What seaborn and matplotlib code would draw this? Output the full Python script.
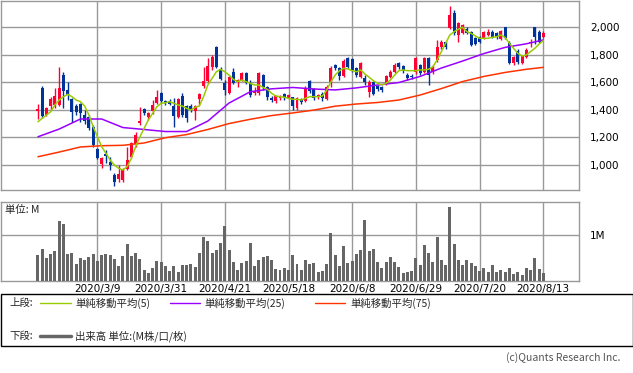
import matplotlib
matplotlib.use("Agg")
import matplotlib.pyplot as plt
from matplotlib.lines import Line2D
from matplotlib.patches import Rectangle
import seaborn as sns
import pandas as pd

# ---------------- data ----------------
tick_pos = [14, 29, 44, 59, 74, 89, 104, 119]
tick_labels = ["2020/3/9", "2020/3/31", "2020/4/21", "2020/5/18",
               "2020/6/8", "2020/6/29", "2020/7/20", "2020/8/13"]

opens = [1392, 1559, 1363, 1428, 1436, 1436, 1653, 1545, 1479, 1428,
         1443, 1363, 1348, 1276, 1116, 1007, 1080, 1022, 927, 898,
         891, 971, 1058, 1152, 1305, 1407, 1348, 1392, 1450, 1523,
         1462, 1467, 1428, 1348, 1501, 1428, 1428, 1392, 1479, 1574,
         1610, 1711, 1857, 1697, 1595, 1523, 1675, 1603, 1617, 1668,
         1595, 1523, 1523, 1653, 1566, 1487, 1465, 1487, 1515, 1487,
         1494, 1414, 1479, 1465, 1610, 1552, 1494, 1515, 1479, 1603,
         1726, 1704, 1646, 1777, 1770, 1704, 1639, 1632, 1530, 1603,
         1574, 1566, 1595, 1639, 1675, 1741, 1719, 1653, 1646, 1675,
         1726, 1675, 1777, 1675, 1762, 1857, 1893, 1995, 2104, 1944,
         1958, 1987, 1966, 1922, 1929, 1922, 1944, 1966, 1958, 1915,
         2002, 1886, 1740, 1828, 1740, 1784, 1886, 2002, 1966, 1929]
highs = [1443, 1574, 1421, 1494, 1559, 1711, 1675, 1603, 1487, 1443,
         1450, 1399, 1363, 1290, 1123, 1058, 1109, 1058, 942, 1000,
         978, 1131, 1167, 1240, 1421, 1414, 1385, 1472, 1545, 1530,
         1472, 1479, 1487, 1487, 1523, 1436, 1443, 1436, 1523, 1711,
         1777, 1798, 1864, 1711, 1617, 1646, 1704, 1624, 1675, 1675,
         1617, 1566, 1675, 1661, 1574, 1501, 1508, 1508, 1523, 1515,
         1494, 1494, 1487, 1574, 1617, 1559, 1515, 1530, 1581, 1719,
         1733, 1711, 1770, 1784, 1777, 1711, 1748, 1653, 1617, 1610,
         1581, 1574, 1653, 1690, 1741, 1748, 1726, 1668, 1661, 1784,
         1733, 1784, 1784, 1726, 1908, 1908, 1900, 2154, 2125, 2038,
         2024, 2002, 1973, 1929, 1937, 1973, 1987, 1980, 1966, 1980,
         2002, 1900, 1791, 1842, 1798, 1849, 1915, 2002, 1980, 1973]
lows = [1334, 1341, 1356, 1399, 1414, 1428, 1414, 1472, 1312, 1363,
        1312, 1298, 1254, 1131, 1044, 978, 1015, 964, 848, 877,
        877, 964, 1051, 1131, 1290, 1363, 1327, 1370, 1443, 1450,
        1436, 1436, 1276, 1341, 1348, 1312, 1385, 1327, 1436, 1559,
        1595, 1690, 1704, 1617, 1508, 1515, 1588, 1566, 1610, 1588,
        1494, 1508, 1508, 1545, 1472, 1457, 1450, 1472, 1472, 1479,
        1399, 1399, 1443, 1457, 1523, 1472, 1479, 1465, 1472, 1566,
        1690, 1617, 1639, 1704, 1675, 1639, 1632, 1581, 1494, 1508,
        1537, 1530, 1581, 1632, 1668, 1697, 1668, 1617, 1624, 1661,
        1653, 1668, 1581, 1661, 1748, 1842, 1842, 1988, 1944, 1893,
        1951, 1951, 1864, 1871, 1886, 1915, 1937, 1922, 1915, 1908,
        1915, 1733, 1726, 1733, 1733, 1777, 1857, 1878, 1886, 1922]
closes = [1407, 1356, 1414, 1479, 1501, 1559, 1537, 1508, 1385, 1385,
          1378, 1319, 1269, 1145, 1051, 1051, 1065, 1000, 877, 935,
          964, 1036, 1160, 1218, 1319, 1378, 1378, 1436, 1494, 1465,
          1450, 1443, 1356, 1479, 1363, 1341, 1399, 1428, 1515, 1610,
          1719, 1784, 1711, 1624, 1545, 1639, 1595, 1617, 1668, 1595,
          1508, 1530, 1668, 1566, 1494, 1472, 1501, 1494, 1494, 1508,
          1428, 1487, 1457, 1559, 1537, 1487, 1508, 1487, 1566, 1704,
          1704, 1646, 1755, 1711, 1690, 1653, 1741, 1603, 1603, 1515,
          1552, 1545, 1646, 1675, 1726, 1711, 1682, 1632, 1639, 1777,
          1668, 1777, 1653, 1711, 1857, 1893, 1857, 2089, 1958, 2031,
          2016, 1958, 1871, 1878, 1893, 1966, 1966, 1929, 1929, 1973,
          1922, 1740, 1784, 1748, 1791, 1835, 1893, 1929, 1893, 1958]

ma5 = [1314, 1339, 1363, 1387, 1436, 1472, 1496, 1513, 1496, 1472,
       1460, 1428, 1363, 1278, 1205, 1133, 1085, 1036, 1000, 976,
       964, 988, 1049, 1133, 1205, 1266, 1327, 1375, 1423, 1448,
       1452, 1460, 1448, 1436, 1428, 1412, 1399, 1419, 1428, 1496,
       1581, 1629, 1677, 1695, 1677, 1653, 1622, 1605, 1617, 1605,
       1593, 1581, 1581, 1564, 1550, 1521, 1501, 1496, 1492, 1484,
       1477, 1477, 1472, 1484, 1496, 1496, 1496, 1501, 1545, 1605,
       1653, 1685, 1702, 1697, 1685, 1677, 1690, 1661, 1637, 1612,
       1593, 1581, 1593, 1617, 1653, 1685, 1690, 1685, 1685, 1685,
       1690, 1690, 1695, 1714, 1762, 1823, 1884, 1944, 1968, 1985,
       2000, 1968, 1956, 1937, 1920, 1920, 1920, 1927, 1931, 1944,
       1927, 1884, 1847, 1811, 1791, 1799, 1823, 1847, 1878, 1902]

ma_long_idx = [0, 5, 10, 15, 20, 25, 30, 35, 40, 45, 50, 55, 60, 65,
               70, 75, 80, 85, 90, 95, 100, 105, 110, 115, 119]
ma25 = [1205, 1261, 1334, 1334, 1272, 1258, 1243, 1243, 1319, 1450,
        1532, 1553, 1563, 1552, 1545, 1560, 1581, 1599, 1643, 1704,
        1755, 1809, 1854, 1880, 1908]
ma75 = [1060, 1094, 1131, 1140, 1143, 1160, 1198, 1221, 1258, 1301,
        1332, 1359, 1378, 1399, 1427, 1443, 1454, 1472, 1508, 1555,
        1606, 1643, 1672, 1695, 1709]

volume_m = [0.56, 0.69, 0.50, 0.58, 0.65, 1.31, 1.24, 0.58, 0.61, 0.36,
            0.50, 0.45, 0.52, 0.58, 0.43, 0.56, 0.58, 0.56, 0.47, 0.32,
            0.54, 0.80, 0.54, 0.61, 0.47, 0.23, 0.17, 0.28, 0.43, 0.41,
            0.32, 0.21, 0.32, 0.19, 0.34, 0.34, 0.36, 0.30, 0.61, 0.96,
            0.87, 0.61, 0.67, 0.82, 1.20, 0.67, 0.41, 0.23, 0.39, 0.43,
            0.82, 0.32, 0.45, 0.52, 0.54, 0.45, 0.26, 0.23, 0.28, 0.23,
            0.56, 0.36, 0.23, 0.45, 0.36, 0.39, 0.19, 0.21, 0.36, 1.04,
            0.56, 0.32, 0.76, 0.39, 0.43, 0.58, 0.67, 1.33, 0.65, 0.69,
            0.41, 0.28, 0.41, 0.52, 0.41, 0.30, 0.17, 0.19, 0.21, 0.50,
            0.34, 0.78, 0.61, 0.41, 0.96, 0.45, 0.34, 1.61, 0.80, 0.45,
            0.34, 0.45, 0.39, 0.32, 0.21, 0.28, 0.19, 0.34, 0.19, 0.23,
            0.19, 0.28, 0.15, 0.19, 0.12, 0.28, 0.23, 0.50, 0.26, 0.17]

price_ticks = [1000, 1200, 1400, 1600, 1800, 2000]
vol_ticks = [1.0]
vol_tick_labels = ["1M"]

# ---------------- styling ----------------
RED = "#ff0033"
BLUE = "#003399"
C_MA5 = "#99cc00"
C_MA25 = "#9900ff"
C_MA75 = "#ff3300"
GRID = "#999999"
VOLC = "#666666"

sns.set_theme(style="white")
plt.rcParams["font.family"] = ["DejaVu Sans", "Noto Sans CJK JP"]
JP = ["Noto Sans CJK JP", "DejaVu Sans"]
FS = 7.5

W, H = 633, 373
fig = plt.figure(figsize=(W / 100, H / 100), dpi=100)
fig.patch.set_facecolor("white")

def fx(px):
    return px / W

def fy(py):
    return 1 - py / H

left = 0.5
right = 579
ax1 = fig.add_axes([fx(left), fy(190), fx(right - left), (190 - 0.7) / H])
ax2 = fig.add_axes([fx(left), fy(280.7), fx(right - left), (280.7 - 201.7) / H])

df = pd.DataFrame({"i": range(len(opens)), "open": opens, "high": highs,
                   "low": lows, "close": closes, "ma5": ma5, "vol": volume_m})
df["up"] = df["close"] >= df["open"]
colors = [RED if u else BLUE for u in df["up"]]

# candles
ax1.vlines(df["i"], df["low"], df["high"], colors=colors, linewidth=1, zorder=3)
body_bottom = df[["open", "close"]].min(axis=1)
body_h = (df["close"] - df["open"]).abs().clip(lower=7)
ax1.bar(df["i"], body_h, bottom=body_bottom, width=0.7, color=colors,
        linewidth=0, zorder=4)

# moving averages
ma_df = pd.DataFrame({"i": ma_long_idx, "ma25": ma25, "ma75": ma75})
sns.lineplot(data=ma_df, x="i", y="ma75", ax=ax1, color=C_MA75, linewidth=1.1, zorder=5)
sns.lineplot(data=ma_df, x="i", y="ma25", ax=ax1, color=C_MA25, linewidth=1.1, zorder=5)
sns.lineplot(data=df, x="i", y="ma5", ax=ax1, color=C_MA5, linewidth=1.1, zorder=6)

# volume
sns.barplot(data=df, x="i", y="vol", ax=ax2, native_scale=True, color=VOLC,
            width=0.7, saturation=1, linewidth=0, zorder=3)

xlim = (-37.5 / 4.25, (right - 37.5) / 4.25)
for ax in (ax1, ax2):
    ax.set_xlim(*xlim)
    ax.set_xticks(tick_pos)
    ax.grid(True, color=GRID, linewidth=1, zorder=0)
    ax.set_axisbelow(True)
    for s in ax.spines.values():
        s.set_color(GRID)
        s.set_linewidth(1)
    ax.set_xlabel("")
    ax.set_ylabel("")
    ax.yaxis.tick_right()
    ax.tick_params(axis="both", length=0, labelsize=FS, colors="#000000")
    ax.set_facecolor("white")

ax1.set_ylim(818.5, 2193)
ax1.set_yticks(price_ticks)
ax1.set_yticklabels([f"{v:,}" for v in price_ticks])
ax1.set_xticklabels([])
ax1.tick_params(axis="y", pad=8)

ax2.set_ylim(0, 1.73)
ax2.set_yticks(vol_ticks)
ax2.set_yticklabels(vol_tick_labels)
ax2.set_xticklabels(tick_labels)
ax2.tick_params(axis="y", pad=8)
ax2.tick_params(axis="x", pad=2.5)
ax2.text(0.008, 0.955, "単位: M", transform=ax2.transAxes, va="top", ha="left",
         fontsize=FS, family=JP)

# legend box
fig.patches.append(Rectangle((fx(0.5), fy(346)), fx(632), 52 / H,
                             transform=fig.transFigure, facecolor="white",
                             edgecolor="#000000", linewidth=1, zorder=1))
r1, r2 = 303, 336
fig.text(fx(9), fy(r1), "上段:", fontsize=FS, family=JP, va="center", ha="left")
for (x0, x1, tx, col, lab) in [(40, 71, 75, C_MA5, "単純移動平均(5)"),
                               (170, 200, 204, C_MA25, "単純移動平均(25)"),
                               (315, 345, 350, C_MA75, "単純移動平均(75)")]:
    fig.lines.append(Line2D([fx(x0), fx(x1)], [fy(r1), fy(r1)], color=col,
                            linewidth=1, transform=fig.transFigure))
    fig.text(fx(tx), fy(r1), lab, fontsize=FS, family=JP, va="center", ha="left")
fig.text(fx(9), fy(r2), "下段:", fontsize=FS, family=JP, va="center", ha="left")
fig.lines.append(Line2D([fx(40), fx(71)], [fy(r2), fy(r2)], color=VOLC,
                        linewidth=2.5, transform=fig.transFigure))
fig.text(fx(75), fy(r2), "出来高 単位:(M株/口/枚)", fontsize=FS, family=JP,
         va="center", ha="left")
fig.text(fx(620), fy(358), "(c)Quants Research Inc.", fontsize=FS, family=JP,
         va="center", ha="right", color="#555555")

fig.savefig("out.png", dpi=100, facecolor="white")
